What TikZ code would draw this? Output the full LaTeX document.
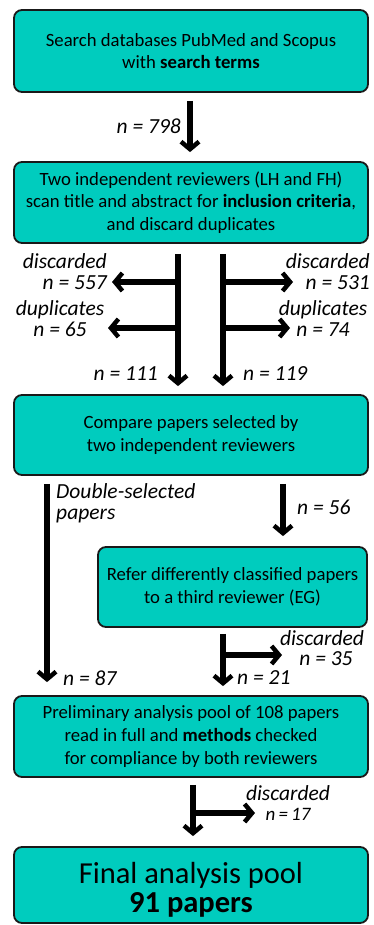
\documentclass[tikz,border=0pt]{standalone}
\usepackage{fontspec}
\setmainfont{Carlito}
\usetikzlibrary{arrows.meta}
\definecolor{tealbox}{HTML}{00CCBE}
\begin{document}
\begin{tikzpicture}[x=1pt,y=-1pt,
 box/.style={draw=black!90, line width=1.8pt, fill=tealbox, rounded corners=8pt, align=center, font=\fontsize{18.7}{22.7}\selectfont, inner sep=0pt},
 lab/.style={font=\fontsize{21.5}{20.5}\selectfont\itshape, inner sep=0pt},
 arr/.style={line width=5.5pt, -{Straight Barb[length=7.5pt,width=18pt,line width=4.5pt]}}]
\useasboundingbox (0,0) rectangle (373,925);
% boxes
\node[box, minimum width=354pt, minimum height=82pt] (b1) at (191,51) {Search databases PubMed and Scopus\\with \textbf{search terms}};
\node[box, minimum width=354pt, minimum height=81pt] (b2) at (191,202.5) {Two independent reviewers (LH and FH)\\scan title and abstract for \textbf{inclusion criteria},\\and discard duplicates};
\node[box, minimum width=354pt, minimum height=80pt] (b3) at (191,435) {Compare papers selected by\\two independent reviewers};
\node[box, minimum width=269pt, minimum height=80pt] (b4) at (232.5,587) {Refer differently classified papers\\to a third reviewer (EG)};
\node[box, minimum width=354pt, minimum height=81pt] (b5) at (191,736.5) {Preliminary analysis pool of 108 papers\\read in full and \textbf{methods} checked\\for compliance by both reviewers};
\node[box, minimum width=354pt, minimum height=76pt, font=\fontsize{30.5}{29}\selectfont] (b6) at (191,885) {\rule{0pt}{31pt}Final analysis pool\\\textbf{91 papers}};
% labels
\node[lab, anchor=east] (l798) at (181,126) {n = 798};
\node[lab, anchor=east, align=right] (ld1) at (107,271.5) {discarded\\n = 557};
\node[lab, align=center] (ldup1) at (60,318.5) {duplicates\\n = 65};
\node[lab, anchor=east, align=right] (ld2) at (370,271.5) {discarded\\n = 531};
\node[lab, align=center] (ldup2) at (323,318.5) {duplicates\\n = 74};
\node[lab, anchor=east] (l111) at (158,374) {n = 111};
\node[lab, anchor=west] (l119) at (243,374) {n = 119};
\node[lab, anchor=west, align=left] (lds) at (56,503.5) {Double-selected\\papers};
\node[lab, anchor=west] (l56) at (297,507) {n = 56};
\node[lab, align=center] (ld3) at (322,648) {discarded\\\hspace*{8pt}n = 35};
\node[lab, anchor=west] (l21) at (237,678) {n = 21};
\node[lab, anchor=west] (l87) at (63,678) {n = 87};
\node[lab, align=center] (ld4) at (288,803) {discarded\\{\fontsize{19}{18}\selectfont n\,=\,17}};
% branch coordinates
\coordinate (s1) at (178,282); \coordinate (e1) at (112,282);
\coordinate (s2) at (178,328); \coordinate (e2) at (108,328);
\coordinate (s3) at (223,282); \coordinate (e3) at (293,282);
\coordinate (s4) at (223,328); \coordinate (e4) at (290,328);
\coordinate (s5) at (223,655); \coordinate (e5) at (282,655);
\coordinate (s6) at (193,813); \coordinate (e6) at (255,813);
% connectors
\draw[arr, shorten <=8pt, shorten >=9pt] ([xshift=-1pt]b1.south) -- ([xshift=-1pt]b2.north);
\draw[arr, shorten <=10pt, shorten >=8pt] ([xshift=-13pt]b2.south) -- ([xshift=-13pt]b3.north);
\draw[arr, shorten <=10pt, shorten >=8pt] ([xshift=32pt]b2.south) -- ([xshift=32pt]b3.north);
\draw[arr] (s1) -- (e1);
\draw[arr] (s2) -- (e2);
\draw[arr] (s3) -- (e3);
\draw[arr] (s4) -- (e4);
\draw[arr, shorten <=8pt, shorten >=13pt] ([xshift=-144pt]b3.south) -- ([xshift=-144pt]b5.north);
\draw[arr, shorten <=8pt, shorten >=10pt] ([xshift=92pt]b3.south) -- ([xshift=50.5pt]b4.north);
\draw[arr, shorten <=6pt, shorten >=9pt] ([xshift=-9.5pt]b4.south) -- ([xshift=32pt]b5.north);
\draw[arr] (s5) -- (e5);
\draw[arr, shorten <=7pt, shorten >=10pt] ([xshift=2pt]b5.south) -- ([xshift=2pt]b6.north);
\draw[arr] (s6) -- (e6);
\end{tikzpicture}
\end{document}
